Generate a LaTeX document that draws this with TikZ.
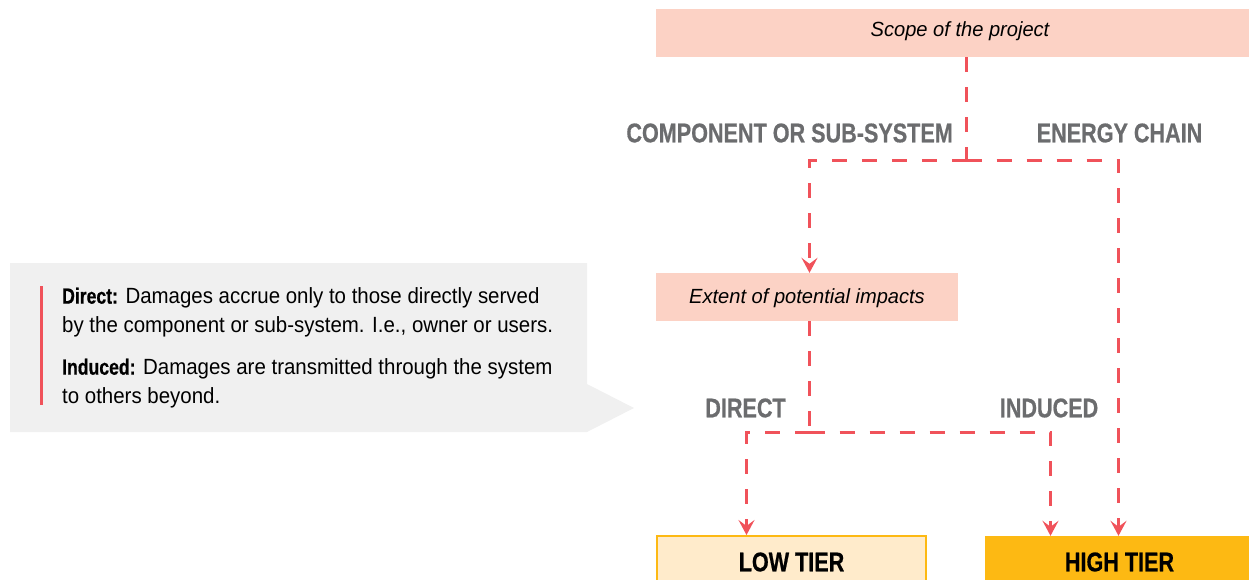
\documentclass[tikz,border=0pt]{standalone}
\usepackage{fontspec}
\setmainfont{Liberation Sans}[FakeStretch=0.93]
\newfontfamily\condbold{Liberation Sans}[FakeStretch=0.8, BoldFeatures={FakeBold=0.6}]
\newfontfamily\itfont{Liberation Sans}[FakeStretch=0.98]
\usetikzlibrary{arrows.meta}
\definecolor{pinkbox}{HTML}{FCD2C5}
\definecolor{dashred}{HTML}{F0525A}
\definecolor{labelgray}{HTML}{6B6C6E}
\definecolor{calloutgray}{HTML}{F0F0F0}
\definecolor{lowfill}{HTML}{FFEBCB}
\definecolor{amber}{HTML}{FDB913}
\begin{document}
\begin{tikzpicture}[x=1pt,y=-1pt,
  stagebox/.style={fill=pinkbox, inner sep=0pt, minimum height=48pt,
    font=\itfont\itshape\fontsize{20.5}{24}\selectfont, text=black},
  branchlabel/.style={inner sep=0pt, text=labelgray,
    font=\condbold\bfseries\fontsize{27}{32}\selectfont},
  tierbox/.style={inner sep=0pt, minimum height=60pt, text=black,
    text height=19.3pt, text depth=8.7pt,
    font=\condbold\bfseries\fontsize{27}{32}\selectfont},
  flow/.style={draw=dashred, line width=3pt, dash pattern=on 15pt off 15pt},
  flowarrow/.style={flow, -{Stealth[length=15pt,width=16pt,inset=6pt]}},
  calloutbar/.style={draw=dashred, line width=2.7pt},
  callouttext/.style={inner sep=0pt, anchor=north west, align=left,
    font=\fontsize{22}{29}\selectfont, text=black}
]
\useasboundingbox (0,0) rectangle (1249,579);

% callout
\path[fill=calloutgray] (10,263) -- (587,263) -- (587,384) -- (634,408)
  -- (587,432) -- (10,432) -- cycle;
\coordinate (bartop) at (41.7,286);
\coordinate (barbot) at (41.7,405);
\draw[calloutbar] (bartop) -- (barbot);
\node[callouttext] (note) at (62,287.5)
  {{\condbold\bfseries Direct:} Damages accrue only to those directly served\\
   by the component or sub-system. I.e., owner or users.\\[13pt]
   {\condbold\bfseries Induced:} Damages are transmitted through the system\\
   to others beyond.};

% boxes
\node[stagebox, minimum width=608pt, text height=14.7pt, text depth=8pt]
  (scope) at (960,33) {Scope of the project};
\node[stagebox, minimum width=302pt, text height=14.3pt, text depth=2.3pt]
  (extent) at (807,297) {Extent of potential impacts};
\node[tierbox, fill=lowfill, draw=amber, line width=2pt, minimum width=269pt]
  (low) at (791.5,566) {LOW TIER};
\node[tierbox, fill=amber, minimum width=269pt]
  (high) at (1119.5,566) {HIGH TIER};

% labels
\node[branchlabel, anchor=base east] (comp) at (953,142.3) {COMPONENT OR SUB-SYSTEM};
\node[branchlabel, anchor=base] (energy) at (1119.5,142.3) {ENERGY CHAIN};
\node[branchlabel, anchor=base] (direct) at (745.5,417.3) {DIRECT};
\node[branchlabel, anchor=base] (induced) at (1049,417.3) {INDUCED};

% connectors
\coordinate (j1) at (966.5,160);
\coordinate (c1) at (809.5,160);
\coordinate (c2) at (1118.5,160);
\coordinate (j2) at (809.5,432.3);
\coordinate (c3) at (746.5,432.3);
\coordinate (c4) at (1050.5,432.3);

\draw[flow] (j1 |- scope.south) -- (j1);
\draw[flowarrow] (j1) -- (c1) -- (c1 |- extent.north);
\draw[flowarrow] (j1) -- (c2) -- (c2 |- high.north);
\draw[flow] (j2 |- extent.south) -- (j2);
\draw[flowarrow] (j2) -- (c3) -- (c3 |- low.north);
\draw[flowarrow] (j2) -- (c4) -- (c4 |- high.north);
\end{tikzpicture}
\end{document}
